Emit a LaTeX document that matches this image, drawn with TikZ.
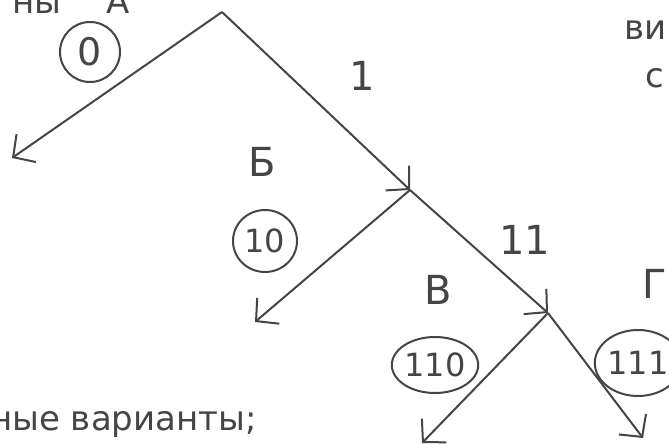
\documentclass[tikz,border=0pt]{standalone}
\usepackage{fontspec}
\setmainfont{DejaVu Sans}
\usetikzlibrary{arrows.meta,shapes.geometric}
\definecolor{ink}{HTML}{454545}
\begin{document}
\begin{tikzpicture}[x=1pt,y=-1pt,
  pen/.style={draw=ink, line width=2pt},
  edge/.style={pen, -{Straight Barb[length=16pt,width=34pt,line width=2pt]}},
  lbl/.style={text=ink, font=\fontsize{40}{40}\selectfont, inner sep=0pt},
  note/.style={text=ink, font=\fontsize{34}{34}\selectfont, inner sep=0pt},
  code/.style args={#1/#2}{draw=ink, line width=2pt, ellipse, text=ink,
    font=\fontsize{32}{32}\selectfont, inner sep=0pt,
    minimum width=#1, minimum height=#2}]
\useasboundingbox (0,0) rectangle (669,444);
\fill[white] (0,0) rectangle (669,444);

% tree points
\coordinate (root) at (222,12);
\coordinate (L0) at (12,158);
\coordinate (n1) at (410,190);
\coordinate (L10) at (255,322);
\coordinate (n11) at (548,313);
\coordinate (L110) at (422,443);
\coordinate (L111) at (643,438);

\draw[edge] (root) -- (L0);
\draw[edge] (root) -- (n1);
\draw[edge] (n1) -- (L10);
\draw[edge] (n1) -- (n11);
\draw[edge] (n11) -- (L110);
\draw[edge] (n11) -- (L111);

% edge labels
\node[lbl] (e1) at (362,76) {1};
\node[lbl] (e11) at (525,240) {11};
\node[lbl] (lB) at (262,162) {Б};
\node[lbl] (lV) at (438,290) {В};
\node[lbl] (lG) at (655,284) {Г};

% circled codes
\node[code=60pt/60pt, font=\fontsize{38}{38}\selectfont] (c0) at (90,52) {0};
\node[code=64pt/62pt] (c10) at (265,241) {10};
\node[code=78pt/56pt] (c110) at (435,365) {110};
\node[code=68pt/66pt] (c111) at (638,363) {111};

% cut-off texts
\node[note, anchor=base west] (tl) at (12,14) {ны};
\node[note, anchor=base west] (tA) at (106,14) {А};
\node[note, anchor=base west] (tr) at (624,40) {ви};
\node[note, anchor=base west] (tr2) at (645,88) {с};
\node[note, anchor=base west] (bot) at (-10,430) {ные варианты;};
\end{tikzpicture}
\end{document}
